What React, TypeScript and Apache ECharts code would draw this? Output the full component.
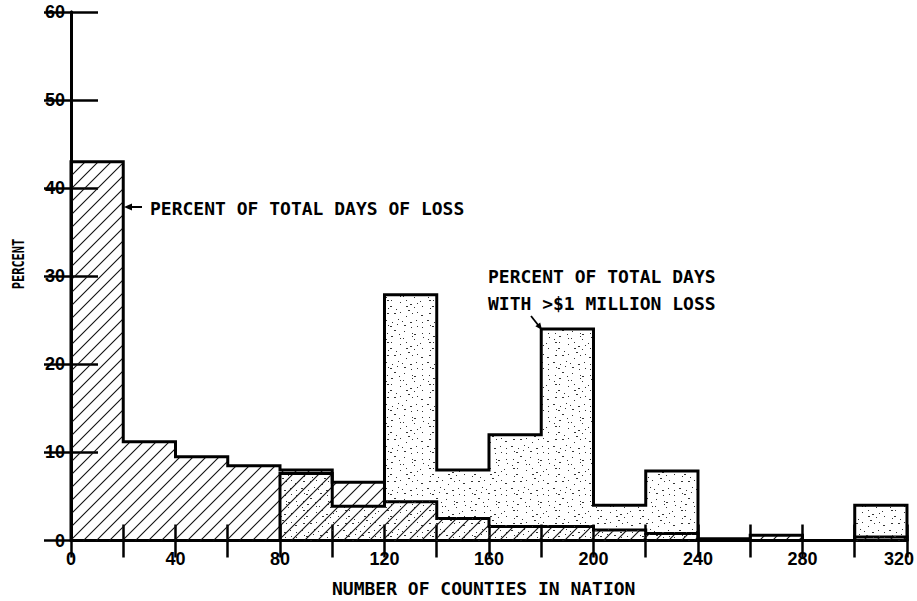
import React, { useEffect, useRef } from "react";
import * as echarts from "echarts";

// ---- data ----
const binStarts = [0, 20, 40, 60, 80, 100, 120, 140, 160, 180, 200, 220, 240, 260, 280, 300];
const binWidth = 20;
const daysOfLossPct = [43, 11.2, 9.5, 8.5, 8.0, 6.6, 4.4, 2.5, 1.6, 1.6, 1.2, 0.8, 0.2, 0.6, 0, 0.4];
const millionLossPct = [0, 0, 0, 0, 7.6, 3.9, 27.9, 8.0, 12.0, 24.0, 4.0, 7.9, 0, 0, 0, 4.0];
const xTickLabels = [0, 40, 80, 120, 160, 200, 240, 280, 320];
const yTickLabels = [0, 10, 20, 30, 40, 50, 60];

const MONO = '"DejaVu Sans Mono", monospace';
const SANS = '"Liberation Sans", Arial, sans-serif';

function stepOutline(values: number[]) {
  const first = values.findIndex((v) => v > 0);
  const pts: number[][] = [[binStarts[first], 0]];
  for (let i = first; i < values.length; i++) {
    pts.push([binStarts[i], values[i]]);
    pts.push([binStarts[i] + binWidth, values[i]]);
  }
  pts.push([binStarts[values.length - 1] + binWidth, 0]);
  return pts;
}

function hatchTile() {
  const s = 13;
  const c = document.createElement("canvas");
  c.width = s;
  c.height = s;
  const g = c.getContext("2d")!;
  g.strokeStyle = "#111";
  g.lineWidth = 1.1;
  g.beginPath();
  g.moveTo(-1, s + 1);
  g.lineTo(s + 1, -1);
  g.moveTo(-1, 1);
  g.lineTo(1, -1);
  g.moveTo(s - 1, s + 1);
  g.lineTo(s + 1, s - 1);
  g.stroke();
  return c;
}

// evenly spread stipple texture: one dot per small cell, jittered deterministically
function stippleTile() {
  const s = 42;
  const cell = 6;
  const c = document.createElement("canvas");
  c.width = s;
  c.height = s;
  const g = c.getContext("2d")!;
  g.fillStyle = "#333";
  let seed = 98765;
  const next = () => {
    seed = (seed * 16807) % 2147483647;
    return seed / 2147483647;
  };
  for (let cy = 0; cy < s; cy += cell) {
    for (let cx = 0; cx < s; cx += cell) {
      const x = cx + Math.floor(next() * (cell - 1));
      const y = cy + Math.floor(next() * (cell - 1));
      g.fillRect(x, y, next() > 0.6 ? 2 : 1, 1);
    }
  }
  return c;
}

export default function App() {
  const ref = useRef<HTMLDivElement>(null);

  useEffect(() => {
    if (!ref.current) return;
    const chart = echarts.init(ref.current, undefined, { renderer: "svg" });
    const hatch = hatchTile();
    const stipple = stippleTile();

    const axisLine = { show: true, lineStyle: { color: "#000", width: 3 } };
    const labelStyle = { fontFamily: SANS, fontWeight: "bold" as const, fontSize: 18, color: "#000" };

    chart.setOption({
      animation: false,
      backgroundColor: "#fff",
      grid: { left: 71, top: 12, width: 837, height: 528.5, containLabel: false },
      xAxis: [
        {
          type: "value",
          min: 0,
          max: 320,
          interval: 20,
          position: "bottom",
          axisLine,
          splitLine: { show: false },
          axisTick: { show: true, inside: true, length: 16, lineStyle: { color: "#000", width: 2.5 } },
          axisLabel: {
            ...labelStyle,
            margin: 9,
            formatter: (v: number) =>
              xTickLabels.includes(v) ? (v === 320 ? "{last|" + v + "}" : String(v)) : "",
            rich: { last: { ...labelStyle, padding: [0, 16, 0, 0] } },
          },
        },
        {
          type: "value",
          min: 0,
          max: 320,
          interval: 20,
          position: "top",
          axisLine,
          splitLine: { show: false },
          axisTick: { show: true, inside: true, length: 17, lineStyle: { color: "#000", width: 2.5 } },
          axisLabel: { show: false },
        },
      ],
      yAxis: [
        {
          type: "value",
          min: 0,
          max: 60,
          interval: 10,
          position: "left",
          axisLine,
          splitLine: { show: false },
          axisTick: { show: true, inside: true, length: 27, lineStyle: { color: "#000", width: 2.5 } },
          axisLabel: {
            ...labelStyle,
            margin: 6,
            formatter: (v: number) => (yTickLabels.includes(v) ? String(v) : ""),
          },
        },
        {
          type: "value",
          min: 0,
          max: 60,
          interval: 10,
          position: "right",
          axisLine,
          splitLine: { show: false },
          axisTick: { show: true, inside: true, length: 27, lineStyle: { color: "#000", width: 2.5 } },
          axisLabel: { show: false },
        },
      ],
      series: [
        {
          name: "PERCENT OF TOTAL DAYS OF LOSS",
          type: "line",
          xAxisIndex: 0,
          yAxisIndex: 0,
          data: stepOutline(daysOfLossPct),
          symbol: "none",
          silent: true,
          z: 3,
          lineStyle: { color: "#000", width: 3, join: "miter" },
          areaStyle: {
            color: { image: hatch, repeat: "repeat", imageWidth: 13, imageHeight: 13 },
            opacity: 1,
          },
        },
        {
          name: "PERCENT OF TOTAL DAYS WITH >$1 MILLION LOSS",
          type: "line",
          xAxisIndex: 0,
          yAxisIndex: 0,
          data: stepOutline(millionLossPct),
          symbol: "none",
          silent: true,
          z: 4,
          lineStyle: { color: "#000", width: 3, join: "miter" },
          areaStyle: {
            color: { image: stipple, repeat: "repeat", imageWidth: 42, imageHeight: 42 },
            opacity: 1,
          },
        },
      ],
      graphic: [
        {
          type: "text",
          x: 150,
          y: 208,
          z: 10,
          style: {
            text: "PERCENT OF TOTAL DAYS OF LOSS",
            fontFamily: MONO,
            fontWeight: "bold",
            fontSize: 18,
            fill: "#000",
            verticalAlign: "middle",
          },
        },
        {
          type: "line",
          z: 10,
          shape: { x1: 142, y1: 207, x2: 129, y2: 207 },
          style: { stroke: "#000", lineWidth: 2 },
        },
        {
          type: "polygon",
          z: 10,
          shape: { points: [[124, 207], [132, 203.5], [132, 210.5]] },
          style: { fill: "#000" },
        },
        {
          type: "text",
          x: 488,
          y: 276.5,
          z: 10,
          style: {
            text: "PERCENT OF TOTAL DAYS",
            fontFamily: MONO,
            fontWeight: "bold",
            fontSize: 18,
            fill: "#000",
            verticalAlign: "middle",
          },
        },
        {
          type: "text",
          x: 488,
          y: 303.5,
          z: 10,
          style: {
            text: "WITH >$1 MILLION LOSS",
            fontFamily: MONO,
            fontWeight: "bold",
            fontSize: 18,
            fill: "#000",
            verticalAlign: "middle",
          },
        },
        {
          type: "line",
          z: 10,
          shape: { x1: 531, y1: 316, x2: 538.5, y2: 325.5 },
          style: { stroke: "#000", lineWidth: 1.8 },
        },
        {
          type: "polygon",
          z: 10,
          shape: { points: [[542, 330], [535.4, 326.2], [540.2, 322.6]] },
          style: { fill: "#000" },
        },
        {
          type: "text",
          x: 332,
          y: 588,
          z: 10,
          style: {
            text: "NUMBER OF COUNTIES IN NATION",
            fontFamily: MONO,
            fontWeight: "bold",
            fontSize: 18,
            fill: "#000",
            verticalAlign: "middle",
          },
        },
        {
          type: "text",
          x: 18,
          y: 264,
          rotation: Math.PI / 2,
          scaleX: 0.8,
          z: 10,
          style: {
            text: "PERCENT",
            fontFamily: MONO,
            fontWeight: "bold",
            fontSize: 15,
            fill: "#000",
            align: "center",
            verticalAlign: "middle",
          },
        },
      ],
    });

    return () => chart.dispose();
  }, []);

  return (
    <div
      ref={ref}
      style={{ position: "absolute", left: 0, top: 0, width: 917, height: 601, background: "#fff" }}
    />
  );
}
